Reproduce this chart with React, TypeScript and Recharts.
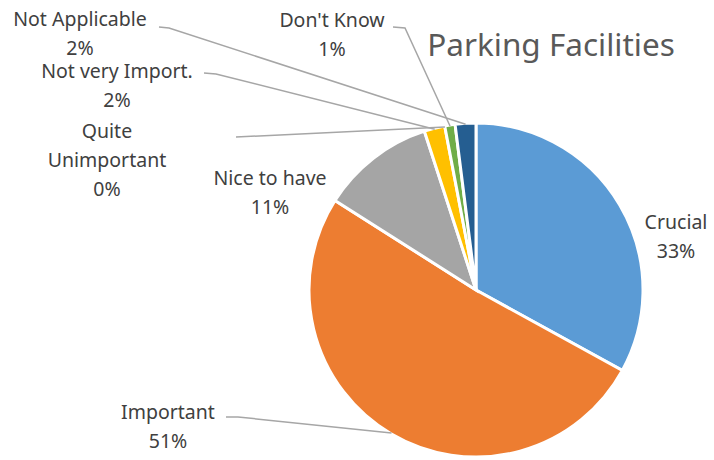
import { Pie, PieChart, Cell } from "recharts";

// values in slice order, clockwise from 12 o'clock
const categories = [
  "Crucial",
  "Important",
  "Nice to have",
  "Not very Import.",
  "Quite Unimportant",
  "Don't Know",
  "Not Applicable",
];
const shares = [33, 51, 11, 2, 0, 1, 2];
const colors = ["#5B9BD5", "#ED7D31", "#A5A5A5", "#FFC000", "#4472C4", "#70AD47", "#255E91"];

const data = categories.map((name, i) => ({ name, value: shares[i] }));

// where each data label sits (text centre, first line) and its leader line
type LabelLayout = {
  x: number;
  y: number;
  lines?: string[];
  leader?: [number, number][];
};
const labelLayout: Record<string, LabelLayout> = {
  Crucial: { x: 676, y: 229 },
  Important: { x: 168, y: 419, leader: [[226, 417], [238, 417]] },
  "Nice to have": { x: 270, y: 185 },
  "Not very Import.": { x: 117, y: 78, lines: ["Not very Import."], leader: [[204, 73], [216, 74]] },
  "Quite Unimportant": { x: 107, y: 138, lines: ["Quite", "Unimportant"], leader: [[236, 137]] },
  "Don't Know": { x: 332, y: 27, leader: [[393, 27], [405, 28]] },
  "Not Applicable": { x: 80, y: 26, leader: [[159, 27], [169, 28]] },
};

const RAD = Math.PI / 180;
const LINE_H = 29;

const renderLabel = (props: any) => {
  const { cx, cy, midAngle, outerRadius, name, percent } = props;
  const lay = labelLayout[name];
  if (!lay) return null;
  const lines = lay.lines ?? [name];
  const ex = cx + (outerRadius - 1) * Math.cos(-midAngle * RAD);
  const ey = cy + (outerRadius - 1) * Math.sin(-midAngle * RAD);
  const pts = lay.leader ? [...lay.leader, [ex, ey]] : null;
  return (
    <g>
      {pts && (
        <polyline
          points={pts.map((p) => p.join(",")).join(" ")}
          fill="none"
          stroke="#A6A6A6"
          strokeWidth={1.5}
        />
      )}
      <text
        x={lay.x}
        y={lay.y}
        textAnchor="middle"
        fill="#404040"
        fontSize={19.5}
        fontFamily="'Noto Sans', sans-serif"
      >
        {lines.map((l, i) => (
          <tspan key={i} x={lay.x} dy={i === 0 ? 0 : LINE_H}>
            {l}
          </tspan>
        ))}
        <tspan x={lay.x} dy={LINE_H}>
          {Math.round(percent * 100)}%
        </tspan>
      </text>
    </g>
  );
};

export default function App() {
  return (
    <div style={{ position: "absolute", left: 0, top: 0, width: 714, height: 460, background: "#fff" }}>
      <PieChart width={714} height={460} margin={{ top: 0, right: 0, bottom: 0, left: 0 }}>
        <text
          x={551}
          y={56}
          textAnchor="middle"
          fill="#595959"
          fontSize={31.5}
          fontFamily="'Noto Sans', sans-serif"
        >
          Parking Facilities
        </text>
        <Pie
          data={data}
          dataKey="value"
          nameKey="name"
          cx={476}
          cy={290}
          outerRadius={167}
          startAngle={90}
          endAngle={-270}
          stroke="#fff"
          strokeWidth={3}
          label={renderLabel}
          labelLine={false}
          isAnimationActive={false}
        >
          {data.map((d, i) => (
            <Cell key={d.name} fill={colors[i]} />
          ))}
        </Pie>
      </PieChart>
    </div>
  );
}
